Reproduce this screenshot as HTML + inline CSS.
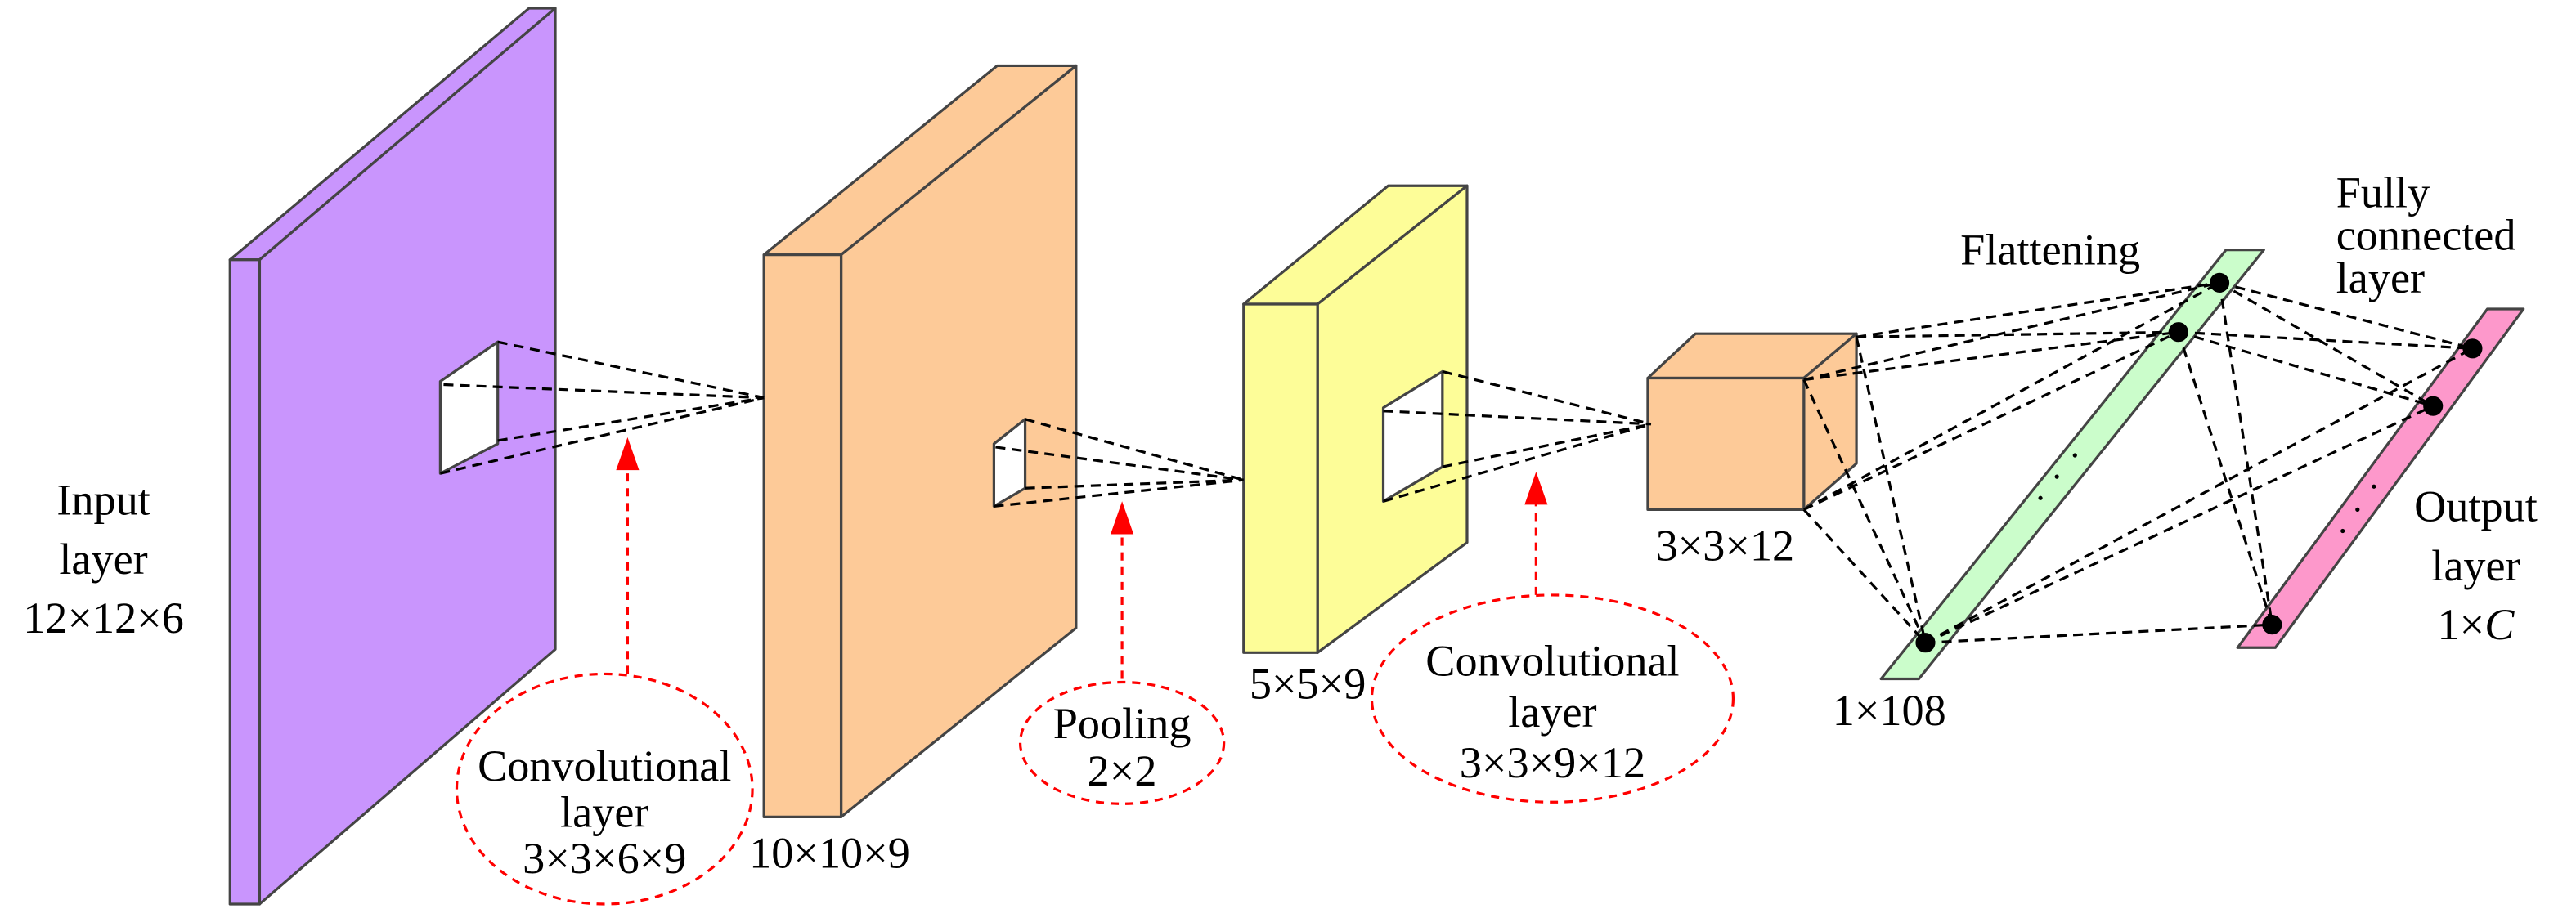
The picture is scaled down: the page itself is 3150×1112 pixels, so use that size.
<!DOCTYPE html>
<html><head><meta charset="utf-8"><style>
html,body{margin:0;padding:0;background:#fff;}
svg{display:block;}
text{font-family:"Liberation Serif","DejaVu Serif",serif;font-size:27px;fill:#000;text-anchor:middle;}
</style></head><body>
<svg width="3150" height="1112" viewBox="0 0 1568 553" preserveAspectRatio="none" xmlns="http://www.w3.org/2000/svg" font-family="Liberation Serif, DejaVu Serif, serif">
<g stroke="#444" stroke-width="1.6" stroke-linejoin="round">
<polygon points="140,158 322,5 338,5 158,158" fill="#c995fd"/>
<polygon points="158,158 338,5 338,395 158,550" fill="#c995fd"/>
<rect x="140" y="158" width="18" height="392" fill="#c995fd"/>
<polygon points="268,232 303,208 303,270 268,288" fill="#fff"/>
<polygon points="465,155 607,40 655,40 512,155" fill="#fdca98"/>
<polygon points="512,155 655,40 655,382 512,497" fill="#fdca98"/>
<rect x="465" y="155" width="47" height="342" fill="#fdca98"/>
<polygon points="605,270 624,255 624,297 605,308" fill="#fff"/>
<polygon points="757,185 845,113 893,113 802,185" fill="#fdfd98"/>
<polygon points="802,185 893,113 893,330 802,397" fill="#fdfd98"/>
<rect x="757" y="185" width="45" height="212" fill="#fdfd98"/>
<polygon points="842,248 878,226 878,284 842,305" fill="#fff"/>
<polygon points="1003,230 1032,203 1130,203 1098,230" fill="#fdca98"/>
<polygon points="1098,230 1130,203 1130,282 1098,310" fill="#fdca98"/>
<rect x="1003" y="230" width="95" height="80" fill="#fdca98"/>
<polygon points="1145,413 1355,152 1378,152 1168,413" fill="#cbfdcb"/>
<polygon points="1362,394 1514,188 1536,188 1385,394" fill="#fd98cb"/>
</g>
<g stroke="#000" stroke-width="1.6" stroke-dasharray="6,4" fill="none">
<path d="M303,208 L465,242 M270,234 L465,242 M303,268 L465,242 M268,288 L465,242"/>
<path d="M624,255 L757,292 M606,272 L757,292 M624,297 L757,292 M605,308 L757,292"/>
<path d="M878,226 L1005,258 M842,250 L1005,258 M878,284 L1005,258 M842,305 L1005,258"/>
<path d="M1130,205 L1351,172 M1130,205 L1326,202 M1130,205 L1172,391
M1098,231 L1351,172 M1098,231 L1326,202 M1098,231 L1172,391
M1098,310 L1351,172 M1098,310 L1326,202 M1098,310 L1172,391"/>
<path d="M1351,172 L1505,212 M1351,172 L1481,247 M1351,172 L1383,380
M1326,202 L1505,212 M1326,202 L1481,247 M1326,202 L1383,380
M1172,391 L1505,212 M1172,391 L1481,247 M1172,391 L1383,380"/>
</g>
<g fill="#000">
<circle cx="1351" cy="172" r="6"/><circle cx="1326" cy="202" r="6"/><circle cx="1172" cy="391" r="6"/>
<circle cx="1505" cy="212" r="6"/><circle cx="1481" cy="247" r="6"/><circle cx="1383" cy="380" r="6"/>
<circle cx="1242" cy="303" r="1.3"/><circle cx="1252" cy="290" r="1.3"/><circle cx="1263" cy="277" r="1.3"/>
<circle cx="1426" cy="323" r="1.3"/><circle cx="1435" cy="310" r="1.3"/><circle cx="1445" cy="296" r="1.3"/>
</g>
<g stroke="#f00" stroke-width="1.6" stroke-dasharray="5,4" fill="none">
<ellipse cx="368" cy="480" rx="90" ry="70"/>
<ellipse cx="683" cy="452" rx="62" ry="37"/>
<ellipse cx="945" cy="425" rx="110" ry="63"/>
<path d="M382,410 L382,284"/>
<path d="M683,413 L683,322"/>
<path d="M935,362 L935,304"/>
</g>
<path d="M382,266 L375,286 L389,286 Z M683,305 L676,325 L690,325 Z M935,287 L928,307 L942,307 Z" fill="#f00"/>
<text x="63" y="313">Input</text><text x="63" y="349">layer</text><text x="63" y="385">12×12×6</text>
<text x="368" y="475">Convolutional</text><text x="368" y="503">layer</text><text x="368" y="531">3×3×6×9</text>
<text x="505" y="528">10×10×9</text>
<text x="683" y="449">Pooling</text><text x="683" y="478">2×2</text>
<text x="796" y="425">5×5×9</text>
<text x="945" y="411">Convolutional</text><text x="945" y="442">layer</text><text x="945" y="473">3×3×9×12</text>
<text x="1050" y="341">3×3×12</text>
<text x="1150" y="441">1×108</text>
<text x="1248" y="161">Flattening</text>
<text x="1422" y="126" style="text-anchor:start">Fully</text>
<text x="1422" y="152" style="text-anchor:start">connected</text>
<text x="1422" y="178" style="text-anchor:start">layer</text>
<text x="1507" y="317">Output</text><text x="1507" y="353">layer</text><text x="1507" y="389">1×<tspan font-style="italic">C</tspan></text>
</svg>
</body></html>
